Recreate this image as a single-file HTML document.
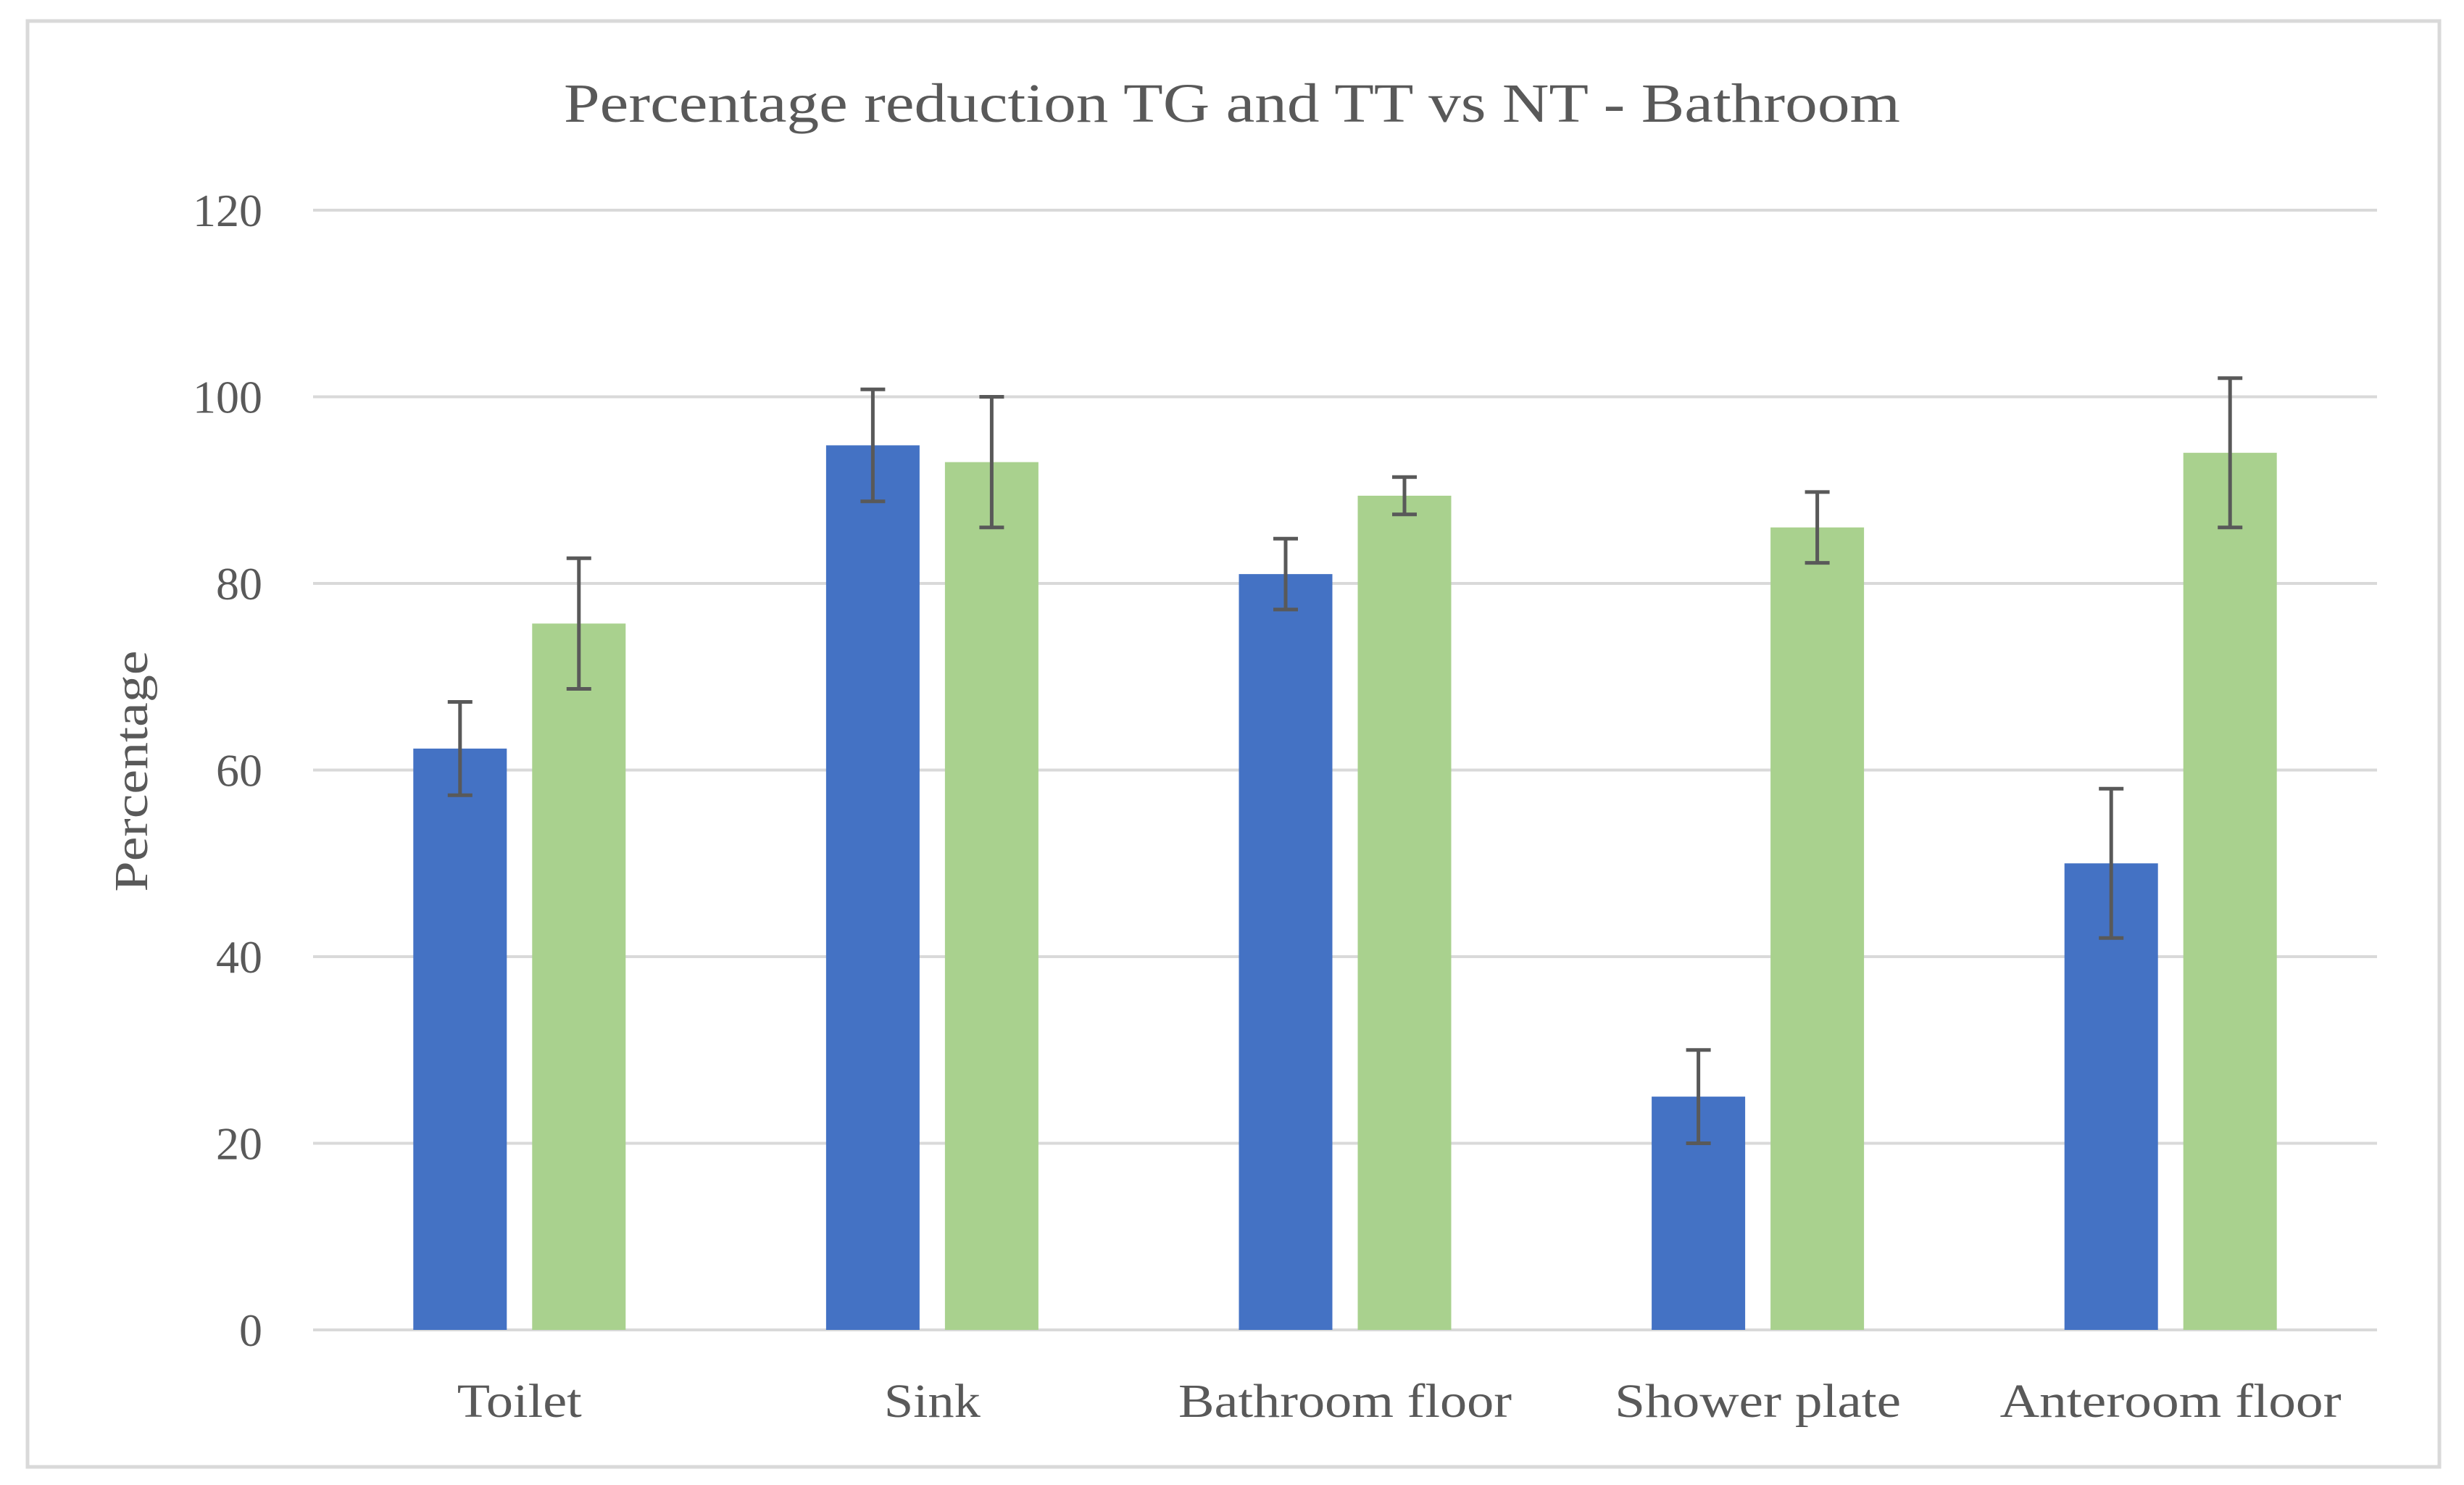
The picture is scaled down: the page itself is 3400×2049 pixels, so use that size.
<!DOCTYPE html>
<html><head><meta charset="utf-8"><style>
html,body{margin:0;padding:0;background:#fff;}
svg{display:block;}
text{font-family:"Liberation Serif",serif;fill:#595959;}
</style></head><body>
<svg id="chart" width="3400" height="2049" viewBox="0 0 3400 2049" xmlns="http://www.w3.org/2000/svg">
<rect x="38" y="29" width="3328" height="1995" fill="#fff" stroke="#d9d9d9" stroke-width="5"/>
<text x="1700" y="168" font-size="76" text-anchor="middle" textLength="1844" lengthAdjust="spacingAndGlyphs">Percentage reduction TG and TT vs NT - Bathroom</text>
<text transform="translate(203,1064) rotate(-90)" font-size="66" text-anchor="middle" textLength="333" lengthAdjust="spacingAndGlyphs">Percentage</text>
<g id="grid"></g><g id="bars"></g><g id="errs"></g><g id="labels"></g>
</svg>
<script>
const categories = ["Toilet","Sink","Bathroom floor","Shower plate","Anteroom floor"];
const tgValues = [62.3, 94.8, 81, 25, 50];
const tgErrors = [5, 6, 3.8, 5, 8];
const ttValues = [75.7, 93, 89.4, 86, 94];
const ttErrors = [7, 7, 2, 3.8, 8];
const yTicks = [0, 20, 40, 60, 80, 100, 120];
const catLabelLengths = [172, 133, 460, 395, 471];

const NS = "http://www.w3.org/2000/svg";
const plotL = 432, plotR = 3280, y0 = 1835, y120 = 290;
const yScale = v => y0 - (v / 120) * (y0 - y120);
const groupW = (plotR - plotL) / categories.length;
const xCenter = i => plotL + groupW * (i + 0.5);
const barW = 129, off = 82;
function mk(tag, attrs, parent) {
  const e = document.createElementNS(NS, tag);
  for (const k in attrs) e.setAttribute(k, attrs[k]);
  parent.appendChild(e);
  return e;
}
const grid = document.getElementById('grid');
const bars = document.getElementById('bars');
const errs = document.getElementById('errs');
const labels = document.getElementById('labels');
yTicks.forEach(t => {
  const y = yScale(t);
  const l = mk('line', {x1: plotL, x2: plotR, y1: y, y2: y, stroke: '#d9d9d9', 'stroke-width': 4}, grid);
  
  
  const tx = mk('text', {x: 362, y: y + 22, 'font-size': 64, 'text-anchor': 'end'}, labels);
  tx.textContent = t;
  
  
});
function drawSeries(vals, errsArr, dx, color, name) {
  vals.forEach((v, i) => {
    const cx = xCenter(i) + dx;
    const r = mk('rect', {x: cx - barW / 2, y: yScale(v), width: barW, height: y0 - yScale(v), fill: color}, bars);
    
    
    const hi = yScale(v + errsArr[i]), lo = yScale(v - errsArr[i]);
    const g = mk('g', {stroke: '#595959', 'stroke-width': 5}, errs);
    
    
    mk('line', {x1: cx, x2: cx, y1: hi, y2: lo}, g);
    mk('line', {x1: cx - 17, x2: cx + 17, y1: hi, y2: hi}, g);
    mk('line', {x1: cx - 17, x2: cx + 17, y1: lo, y2: lo}, g);
  });
}
drawSeries(tgValues, tgErrors, -off, '#4472c4', 'tg');
drawSeries(ttValues, ttErrors, off, '#a9d18e', 'tt');
categories.forEach((c, i) => {
  const t = mk('text', {x: xCenter(i), y: 1955, 'font-size': 66, 'text-anchor': 'middle', textLength: catLabelLengths[i], lengthAdjust: 'spacingAndGlyphs'}, labels);
  t.textContent = c;
  
  
});
</script>
</body></html>
